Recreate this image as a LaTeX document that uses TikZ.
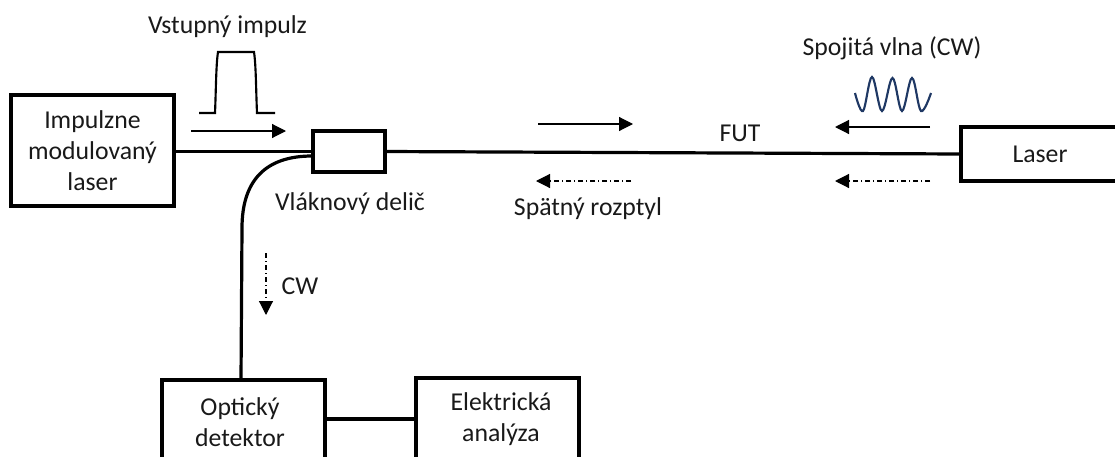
\documentclass[tikz,border=0pt]{standalone}
\usepackage{fontspec}
\setmainfont{Carlito}
\usetikzlibrary{arrows.meta}
\definecolor{wavecol}{HTML}{1F3864}
\tikzset{
  x=0.75pt,y=-0.75pt,
  boxnode/.style={draw=black,line width=2.4pt,inner sep=0pt,outer sep=0pt,fill=none},
  fibre/.style={line width=2.4pt,black},
  lbl/.style={font=\fontsize{19.3pt}{23.5pt}\selectfont,align=center,inner sep=0pt,text=black!90},
  sig/.style={line width=0.85pt,-{Triangle[length=10.5pt,width=10.5pt]}},
  sigback/.style={sig,dash pattern=on 4pt off 2pt on 1pt off 2pt},
  pulsecurve/.style={line width=1.6pt,black},
}
\begin{document}
\begin{tikzpicture}
\useasboundingbox (0,0) rectangle (1115,457);
\clip (0,0) rectangle (1115,457);
% boxes
\node[boxnode,minimum width=122.25pt,minimum height=83.25pt,lbl] (pl) at (92.5,150.5) {Impulzne\\modulovaný\\laser};
\node[boxnode,minimum width=54pt,minimum height=30.75pt] (split) at (349,151.5) {};
\node[boxnode,minimum width=150pt,minimum height=40.5pt] (rl) at (1061,154) {};
\node[boxnode,minimum width=122.25pt,minimum height=75pt] (det) at (243.5,430) {};
\node[boxnode,minimum width=122.25pt,minimum height=76.5pt] (ana) at (497.5,429) {};
% box labels
\node[lbl] (rltext) at (1040,154) {Laser};
\node[lbl] (dettext) at (240,422) {Optický\\detektor};
\node[lbl] (anatext) at (501,419) {Elektrická\\analýza};
% fibres
\draw[fibre] (pl.east |- split.west) -- (split.west);
\draw[fibre] (split.east) -- (rl.west);
\coordinate (tap) at (312,156);
\draw[fibre] (tap) .. controls (266,156) and (242,180) .. (242,228) -- (241,380);
\draw[fibre] (det.east |- 0,419) -- (ana.west |- 0,419);
% labels
\node[lbl] (t1) at (227.5,27) {Vstupný impulz};
\node[lbl] (t2) at (350,204) {Vláknový delič};
\node[lbl] (t3) at (740,133) {FUT};
\node[lbl] (t4) at (892,48) {Spojitá vlna (CW)};
\node[lbl] (t5) at (588,209) {Spätný rozptyl};
\node[lbl] (t6) at (300,286) {CW};
% pulse
\draw[pulsecurve] (199,113) -- (215,113) .. controls (216,90) and (216,65) .. (218,52) -- (254,52) .. controls (256,65) and (256,90) .. (257,113) -- (275,113);
% wave
\draw[wavecol,line width=1.6pt] plot[smooth,tension=0.6] coordinates {(855,93) (863,111) (872,77) (882,111) (892.5,78) (902,111) (912,78) (921,111) (931,93)};
% arrows
\coordinate (a1s) at (191,131); \coordinate (a1e) at (286,131);
\coordinate (a2s) at (538,124); \coordinate (a2e) at (633,124);
\coordinate (a3s) at (930,127); \coordinate (a3e) at (835,127);
\coordinate (a4s) at (631,181); \coordinate (a4e) at (536,181);
\coordinate (a5s) at (930,181); \coordinate (a5e) at (835,181);
\coordinate (a6s) at (266,253); \coordinate (a6e) at (266,315);
\draw[sig] (a1s) -- (a1e);
\draw[sig] (a2s) -- (a2e);
\draw[sig] (a3s) -- (a3e);
\draw[sigback] (a4s) -- (a4e);
\draw[sigback] (a5s) -- (a5e);
\draw[sigback] (a6s) -- (a6e);
\end{tikzpicture}
\end{document}
